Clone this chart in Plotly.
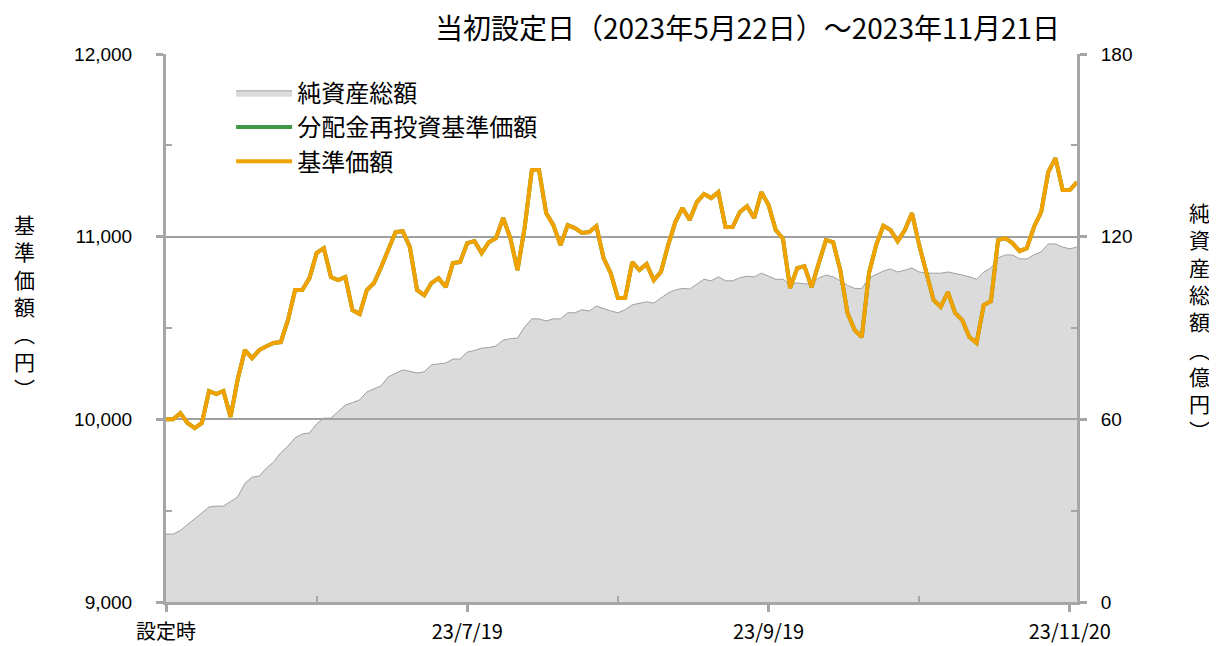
import plotly.graph_objects as go

# ---- data ----
tick_labels = ["設定時", "23/7/19", "23/9/19", "23/11/20"]
tick_index = [0, 42, 84, 126]

nav = [10000, 10000, 10034, 9980, 9952, 9980, 10155, 10138, 10155, 10013,
       10220, 10379, 10335, 10379, 10400, 10418, 10423, 10543, 10708, 10708,
       10773, 10910, 10937, 10779, 10762, 10779, 10598, 10576, 10708, 10746,
       10834, 10927, 11025, 11030, 10943, 10708, 10680, 10746, 10773, 10724,
       10855, 10861, 10965, 10976, 10910, 10970, 10992, 11102, 10992, 10817,
       11050, 11365, 11365, 11129, 11063, 10954, 11063, 11047, 11020, 11025,
       11058, 10883, 10800, 10664, 10664, 10861, 10817, 10850, 10762, 10806,
       10954, 11080, 11157, 11091, 11189, 11233, 11211, 11244, 11053, 11053,
       11135, 11167, 11102, 11244, 11173, 11036, 10990, 10719, 10828, 10839,
       10724, 10855, 10981, 10970, 10817, 10582, 10489, 10450, 10800, 10954,
       11060, 11036, 10975, 11036, 11129, 10954, 10800, 10653, 10615, 10697,
       10582, 10543, 10450, 10418, 10626, 10647, 10981, 10992, 10965, 10921,
       10937, 11053, 11135, 11354, 11430, 11255, 11255, 11299]

# no distributions paid, so reinvested NAV equals NAV
nav_reinvested = list(nav)

aum = [22.3, 22.3, 23.5, 25.5, 27.3, 29.3, 31.2, 31.5, 31.5, 33.0,
       34.5, 39.0, 41.0, 41.4, 44.0, 46.0, 49.0, 51.2, 53.9, 55.2,
       55.5, 58.5, 60.4, 60.4, 62.5, 64.7, 65.5, 66.4, 69.0, 70.0,
       71.0, 74.0, 75.2, 76.2, 75.8, 75.2, 75.6, 77.9, 78.2, 78.5,
       79.8, 79.8, 82.1, 82.6, 83.4, 83.6, 84.1, 86.0, 86.5, 86.7,
       90.3, 93.0, 93.0, 92.3, 93.0, 93.0, 95.0, 95.0, 96.0, 95.6,
       97.2, 96.3, 95.6, 95.0, 96.0, 97.6, 98.0, 98.6, 98.2, 99.9,
       101.5, 102.5, 103.0, 102.8, 104.5, 106.0, 105.5, 106.8, 105.5, 105.5,
       106.5, 107.0, 106.8, 108.0, 107.0, 106.0, 106.0, 104.5, 104.8, 104.5,
       104.5, 106.4, 107.4, 106.8, 105.5, 104.0, 103.0, 103.0, 106.4, 107.5,
       108.7, 109.4, 108.4, 109.0, 109.7, 108.4, 108.0, 108.0, 108.0, 108.4,
       108.0, 107.4, 106.8, 106.0, 108.4, 109.7, 113.0, 114.0, 114.0, 112.7,
       112.7, 114.0, 115.0, 117.6, 117.6, 116.6, 116.0, 116.6]

idx = list(range(len(nav)))

AXC = "#a6a6a6"
JP = "Noto Sans CJK JP"
NUM = "Liberation Sans"

fig = go.Figure()
fig.add_trace(go.Scatter(
    x=idx, y=aum, name="純資産総額", mode="lines", fill="tozeroy",
    fillcolor="rgba(170,170,170,0.42)", line=dict(color="#a0a0a0", width=1),
    yaxis="y", legendgroup="a"))
fig.add_trace(go.Scatter(
    x=idx, y=nav_reinvested, name="分配金再投資基準価額", mode="lines",
    line=dict(color="#3d9a47", width=4), yaxis="y2", legendgroup="b"))
fig.add_trace(go.Scatter(
    x=idx, y=nav, name="基準価額", mode="lines",
    line=dict(color="#f2a200", width=4), yaxis="y2", legendgroup="c"))

fig.update_layout(
    width=1209, height=638, autosize=False,
    margin=dict(l=158, r=140, t=46, b=44, autoexpand=False),
    paper_bgcolor="white", plot_bgcolor="white",
    font=dict(family=JP, color="black"),
    showlegend=True,
    legend=dict(x=0.0715, y=0.9695, xanchor="left", yanchor="top",
                bgcolor="rgba(0,0,0,0)", font=dict(family=JP, size=24),
                tracegroupgap=19, traceorder="normal", itemwidth=56),
    xaxis=dict(range=[0, len(nav) - 1], tickmode="array", tickvals=tick_index,
               ticktext=tick_labels, showgrid=False, zeroline=False,
               automargin=False,
               showline=True, linecolor=AXC, linewidth=3,
               ticks="outside", ticklen=7, tickwidth=3, tickcolor=AXC,
               minor=dict(tickvals=[21, 63, 105], ticks="inside", ticklen=6,
                          tickwidth=2, tickcolor=AXC),
               tickfont=dict(family=JP, size=20), ticklabelstandoff=3),
    yaxis=dict(range=[0, 180], side="right", tickmode="array",
               tickvals=[0, 60, 120, 180], showgrid=False, zeroline=False,
               automargin=False,
               showline=True, linecolor=AXC, linewidth=3,
               ticks="outside", ticklen=7, tickwidth=3, tickcolor=AXC,
               minor=dict(tickvals=[30, 90, 150], ticks="inside", ticklen=6,
                          tickwidth=2, tickcolor=AXC),
               tickfont=dict(family=NUM, size=19), ticklabelstandoff=10),
    yaxis2=dict(range=[9000, 12000], overlaying="y", side="left",
                tickmode="array", tickvals=[9000, 10000, 11000, 12000],
                ticktext=["9,000", "10,000", "11,000", "12,000"],
                automargin=False,
                showgrid=True, gridcolor="#a0a0a0", gridwidth=2, zeroline=False,
                showline=True, linecolor=AXC, linewidth=3,
                ticks="outside", ticklen=7, tickwidth=3, tickcolor=AXC,
                minor=dict(tickvals=[9500, 10500, 11500], ticks="inside",
                           ticklen=6, tickwidth=2, tickcolor=AXC),
                tickfont=dict(family=NUM, size=19), ticklabelstandoff=20),
)

fig.add_annotation(
    text="当初設定日（2023年5月22日）～2023年11月21日",
    xref="paper", yref="paper", x=0.9835, y=1.049,
    xanchor="right", yanchor="middle", showarrow=False,
    font=dict(family=JP, size=28, color="black"))

fig.add_annotation(
    text="基<br>準<br>価<br>額<br>︵<br>円<br>︶",
    xref="paper", yref="paper", x=-0.155, y=0.54,
    xanchor="center", yanchor="middle", showarrow=False,
    font=dict(family=JP, size=21, color="black"))

fig.add_annotation(
    text="純<br>資<br>産<br>総<br>額<br>︵<br>億<br>円<br>︶",
    xref="paper", yref="paper", x=1.135, y=0.513,
    xanchor="center", yanchor="middle", showarrow=False,
    font=dict(family=JP, size=21, color="black"))

fig.write_html("out.html")
